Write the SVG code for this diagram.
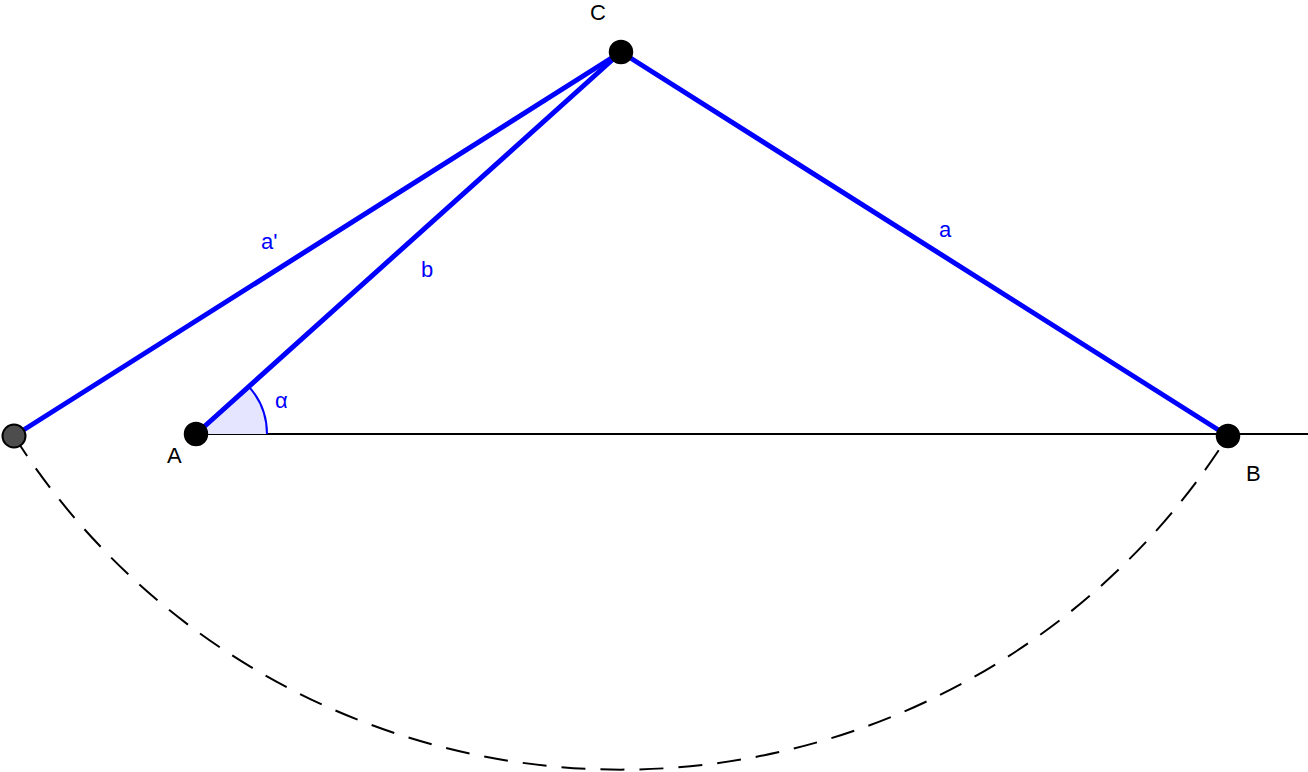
<svg xmlns="http://www.w3.org/2000/svg" width="1308" height="772" viewBox="0 0 1308 772">
<style>
.seg{stroke:#0000ff;stroke-width:5;stroke-linecap:round;fill:none}
.pt{fill:#000;stroke:#000;stroke-width:1.5}
text{font-family:'Liberation Sans',Arial,sans-serif}
.blue{fill:#0000ff}
</style>
<rect width="1308" height="772" fill="#fff"/>
<g id="connectors">
<line x1="196" y1="434" x2="1308" y2="434" stroke="#000" stroke-width="2"/>
<path d="M196,434 L267,434 A71,71 0 0 0 248.8,386.6 Z" fill="#e5e5ff" stroke="none"/>
<path d="M267,434 A71,71 0 0 0 248.8,386.6" fill="none" stroke="#0000ff" stroke-width="2"/>
<path d="M14,436 A719,719 0 0 0 1228,436" fill="none" stroke="#000" stroke-width="2" stroke-dasharray="24 15"/>
<line class="seg" x1="14" y1="436" x2="621" y2="52"/>
<line class="seg" x1="196" y1="434" x2="621" y2="52"/>
<line class="seg" x1="621" y1="52" x2="1228" y2="436"/>
</g>
<g id="label-a-prime"><text class="blue" font-size="22" x="261" y="249">a'</text></g>
<g id="label-b"><text class="blue" font-size="22" x="421" y="277">b</text></g>
<g id="label-a"><text class="blue" font-size="22" x="939" y="237">a</text></g>
<g id="label-alpha"><text class="blue" font-size="22" x="275" y="408">α</text></g>
<g id="point-A">
<circle class="pt" cx="196" cy="434" r="11.5"/>
<text font-size="22" x="167" y="463">A</text>
</g>
<g id="point-B">
<circle class="pt" cx="1228" cy="436" r="11.5"/>
<text font-size="22" x="1246" y="481">B</text>
</g>
<g id="point-C">
<circle class="pt" cx="621" cy="52" r="11.5"/>
<text font-size="22" x="590" y="20">C</text>
</g>
<g id="point-left">
<circle cx="14" cy="436" r="11.5" fill="#4d4d4d" stroke="#000" stroke-width="2"/>
</g>
</svg>
